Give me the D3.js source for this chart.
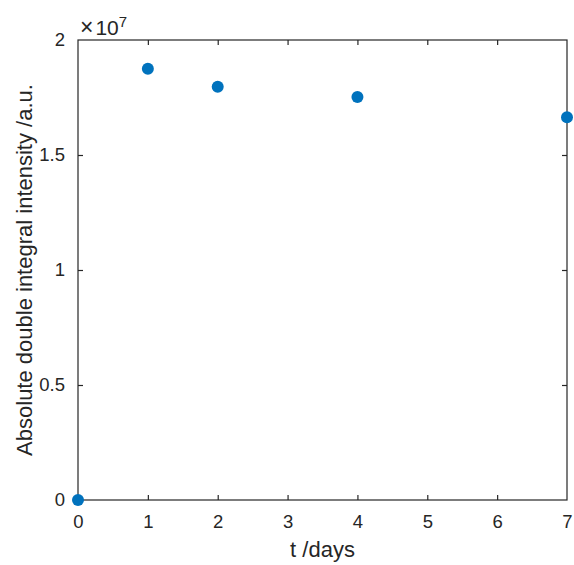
<!DOCTYPE html>
<html>
<head>
<meta charset="utf-8">
<script src="https://cdn.jsdelivr.net/npm/d3@7"></script>
<style>
  body { margin: 0; background: #fff; }
  text { font-family: "Liberation Sans", Arial, Helvetica, sans-serif; fill: #262626; }
</style>
</head>
<body>
<svg id="chart" width="574" height="565"></svg>
<script>
// Measured integral intensity over time
const days = [0, 1, 2, 4, 7];
const intensity = [0, 1.875e7, 1.797e7, 1.752e7, 1.664e7];
const xTicks = [0, 1, 2, 3, 4, 5, 6, 7];
const yTicks = [0, 0.5e7, 1e7, 1.5e7, 2e7];
const yTickLabels = ["0", "0.5", "1", "1.5", "2"];

const svg = d3.select("#chart");
const plotLeft = 78, plotRight = 567, plotTop = 40, plotBottom = 500;
const axisColor = "#262626";
const tickFont = 18.5, labelFont = 22;

const x = d3.scaleLinear().domain([0, 7]).range([plotLeft, plotRight]);
const y = d3.scaleLinear().domain([0, 2e7]).range([plotBottom, plotTop]);

// Box outline
svg.append("rect")
  .attr("x", plotLeft).attr("y", plotTop)
  .attr("width", plotRight - plotLeft).attr("height", plotBottom - plotTop)
  .attr("fill", "none").attr("stroke", axisColor).attr("stroke-width", 1.2);

const tickLen = 5;

// Bottom axis with inward ticks, labels below
const gx = svg.append("g").attr("transform", `translate(0,${plotBottom})`)
  .call(d3.axisBottom(x).tickValues(xTicks).tickFormat(d3.format("d"))
    .tickSizeInner(-tickLen).tickSizeOuter(0).tickPadding(15));
// Top mirrored ticks
const gxt = svg.append("g").attr("transform", `translate(0,${plotTop})`)
  .call(d3.axisTop(x).tickValues(xTicks).tickSizeInner(-tickLen).tickSizeOuter(0).tickFormat(""));

// Left axis
const gy = svg.append("g").attr("transform", `translate(${plotLeft},0)`)
  .call(d3.axisLeft(y).tickValues(yTicks).tickSizeInner(-tickLen).tickSizeOuter(0).tickPadding(13)
    .tickFormat((d, i) => yTickLabels[i]));
// Right mirrored ticks
const gyr = svg.append("g").attr("transform", `translate(${plotRight},0)`)
  .call(d3.axisRight(y).tickValues(yTicks).tickSizeInner(-tickLen).tickSizeOuter(0).tickFormat(""));

[gx, gxt, gy, gyr].forEach(g => {
  g.select(".domain").remove();
  g.selectAll(".tick line").attr("stroke", axisColor).attr("stroke-width", 1.2);
  g.selectAll(".tick text").attr("font-size", tickFont).attr("fill", axisColor)
    .attr("font-family", "Liberation Sans, Arial, sans-serif");
});
// Corner ticks coincide with the box edges
gx.selectAll(".tick").filter(d => d === 0 || d === 7).select("line").remove();
gxt.selectAll(".tick").filter(d => d === 0 || d === 7).select("line").remove();
gy.selectAll(".tick").filter(d => d === 0 || d === 2e7).select("line").remove();
gyr.selectAll(".tick").filter(d => d === 0 || d === 2e7).select("line").remove();

// Exponent multiplier
const expo = svg.append("text").attr("x", plotLeft + 2).attr("y", 35).attr("font-size", 21);
expo.append("tspan").attr("font-size", 23).text("\u00d7");
expo.append("tspan").attr("dx", 2).text("10");
expo.append("tspan").attr("dy", -8).attr("font-size", 15).text("7");

// Axis titles
svg.append("text")
  .attr("x", (plotLeft + plotRight) / 2).attr("y", 557)
  .attr("text-anchor", "middle").attr("font-size", labelFont)
  .text("t /days");

svg.append("text")
  .attr("transform", `translate(32,${(plotTop + plotBottom) / 2}) rotate(-90)`)
  .attr("text-anchor", "middle").attr("font-size", labelFont)
  .text("Absolute double integral intensity /a.u.");

// Data markers
svg.append("g").selectAll("circle")
  .data(days.map((d, i) => ({ t: d, v: intensity[i] })))
  .join("circle")
  .attr("cx", d => x(d.t))
  .attr("cy", d => y(d.v))
  .attr("r", 6)
  .attr("fill", "#0072BD");
</script>
</body>
</html>
